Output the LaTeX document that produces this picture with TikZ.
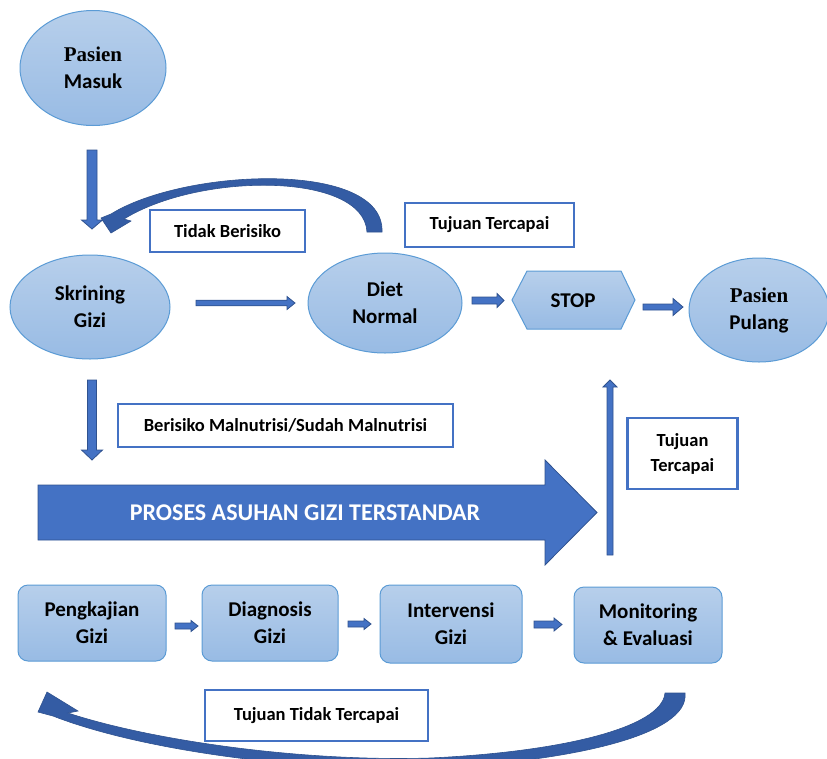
\documentclass[tikz,border=0pt]{standalone}
\usepackage{fontspec}
\setmainfont{Carlito}
\newfontfamily\tnr{Liberation Serif}
\usetikzlibrary{shapes.geometric,calc}
\definecolor{efill1}{RGB}{183,207,235}
\definecolor{efill2}{RGB}{152,187,228}
\definecolor{eline}{RGB}{91,155,213}
\definecolor{afill}{RGB}{68,114,196}
\definecolor{aline}{RGB}{47,82,143}
\definecolor{rib}{RGB}{52,92,164}
\definecolor{lbline}{RGB}{68,114,196}
\tikzset{
  ell/.style={ellipse, top color=efill1, bottom color=efill2, draw=eline, line width=1pt, align=center, font=\bfseries\fontsize{21}{27}\selectfont, inner sep=0pt},
  rbox/.style={rectangle, rounded corners=10pt, top color=efill1, bottom color=efill2, draw=eline, line width=1pt, align=center, font=\bfseries\fontsize{21}{27}\selectfont, inner sep=0pt},
  lbl/.style={rectangle, fill=white, draw=lbline, line width=2.2pt, align=center, font=\bfseries\fontsize{18.5}{25}\selectfont, inner sep=0pt},
  blk/.style={fill=afill, draw=aline, line width=0.8pt, line join=miter},
  ribbon/.style={fill=rib, draw=aline, line width=0.6pt}
}
\newcommand\harrow[5]{\filldraw[blk] ($(#1)+(0,-#3)$) -- ($(#2)+(-#5,-#3)$) -- ($(#2)+(-#5,-#4)$) -- (#2) -- ($(#2)+(-#5,#4)$) -- ($(#2)+(-#5,#3)$) -- ($(#1)+(0,#3)$) -- cycle;}
\newcommand\varrow[5]{\filldraw[blk] ($(#1)+(-#3,0)$) -- ($(#2)+(-#3,#5)$) -- ($(#2)+(-#4,#5)$) -- (#2) -- ($(#2)+(#4,#5)$) -- ($(#2)+(#3,#5)$) -- ($(#1)+(#3,0)$) -- cycle;}
\begin{document}
\begin{tikzpicture}[x=1pt,y=-1pt]
\useasboundingbox (0,0) rectangle (827,758);
% ellipses
\node[ell, minimum width=146pt, minimum height=115pt] (pm) at (93,68) {{\tnr Pasien}\\Masuk};
\node[ell, minimum width=160pt, minimum height=104pt] (sg) at (90,307) {Skrining\\Gizi};
\node[ell, minimum width=154pt, minimum height=100pt] (dn) at (385,303) {Diet\\Normal};
\node[ell, minimum width=140pt, minimum height=104pt] (pp) at (759,310) {{\tnr Pasien}\\Pulang};
% STOP hexagon
\shade[top color=efill1, bottom color=efill2, draw=eline, line width=1pt] (512,300) -- (527,271) -- (621,271) -- (635,300) -- (621,329) -- (527,329) -- cycle;
\node[font=\bfseries\fontsize{21}{27}\selectfont] (stop) at (573,301) {STOP};
% labels
\node[lbl, minimum width=155pt, minimum height=42pt] (tb) at (227.5,231) {Tidak Berisiko};
\node[lbl, minimum width=169pt, minimum height=44pt] (tt) at (489.5,225) {Tujuan Tercapai};
\node[lbl, minimum width=335pt, minimum height=43pt] (bm) at (285.5,425.5) {Berisiko Malnutrisi/Sudah Malnutrisi};
\node[lbl, minimum width=110pt, minimum height=71pt] (tt2) at (682.5,453.5) {Tujuan\\Tercapai};
\node[lbl, minimum width=223pt, minimum height=51pt] (ttt) at (316.5,715.5) {Tujuan Tidak Tercapai};
% bottom boxes
\node[rbox, minimum width=148pt, minimum height=76pt] (pk) at (92,623) {Pengkajian\\Gizi};
\node[rbox, minimum width=136pt, minimum height=76pt] (dg) at (270,623) {Diagnosis\\Gizi};
\node[rbox, minimum width=142pt, minimum height=78pt] (iv) at (451,624) {Intervensi\\Gizi};
\node[rbox, minimum width=148pt, minimum height=76pt] (me) at (648,625) {Monitoring\\\& Evaluasi};
% big arrow
\filldraw[blk] (38,485) -- (545,485) -- (545,460) -- (597,512.5) -- (545,565) -- (545,540) -- (38,540) -- cycle;
\node[text=white, font=\bfseries\fontsize{24}{28}\selectfont] (pagt) at (305,513) {PROSES ASUHAN GIZI TERSTANDAR};
% straight block arrows
\coordinate (a1s) at (92,150); \coordinate (a1e) at (92,229);
\varrow{a1s}{a1e}{5}{10.5}{-9}
\coordinate (a2s) at (92,380); \coordinate (a2e) at (92,460);
\varrow{a2s}{a2e}{4.5}{10.5}{-10}
\coordinate (a3s) at (196,303); \coordinate (a3e) at (295,303);
\harrow{a3s}{a3e}{2.8}{6.5}{8}
\coordinate (a4s) at (472,300.5); \coordinate (a4e) at (504,300.5);
\harrow{a4s}{a4e}{3.5}{7}{7}
\coordinate (a5s) at (643,307); \coordinate (a5e) at (683,307);
\harrow{a5s}{a5e}{3}{8.5}{10}
\coordinate (a6s) at (610,555); \coordinate (a6e) at (610,380);
\varrow{a6s}{a6e}{3}{7}{7}
\coordinate (b1s) at (175,626); \coordinate (b1e) at (198,626);
\harrow{b1s}{b1e}{3}{5.5}{7}
\coordinate (b2s) at (348,624); \coordinate (b2e) at (371,624);
\harrow{b2s}{b2e}{3}{5.5}{7}
\coordinate (b3s) at (534,624.5); \coordinate (b3e) at (562,624.5);
\harrow{b3s}{b3e}{3.5}{6.5}{8}
% top curved arrow
\filldraw[ribbon] (382,232) -- (367,232) .. controls (364,172) and (200,172) .. (124,219) -- (131,221) -- (111,233) -- (101,218) -- (111,214) .. controls (185,168) and (385,160) .. (382,232) -- cycle;
% bottom curved arrow
\filldraw[ribbon] (685,693) -- (665,693) .. controls (662,728) and (560,752) .. (430,758) .. controls (300,762) and (150,740) .. (68,713) -- (78,711) -- (47,692) -- (38,712) -- (53,716) .. controls (140,750) and (300,772) .. (430,768) .. controls (570,762) and (690,735) .. (685,693) -- cycle;
\end{tikzpicture}
\end{document}
